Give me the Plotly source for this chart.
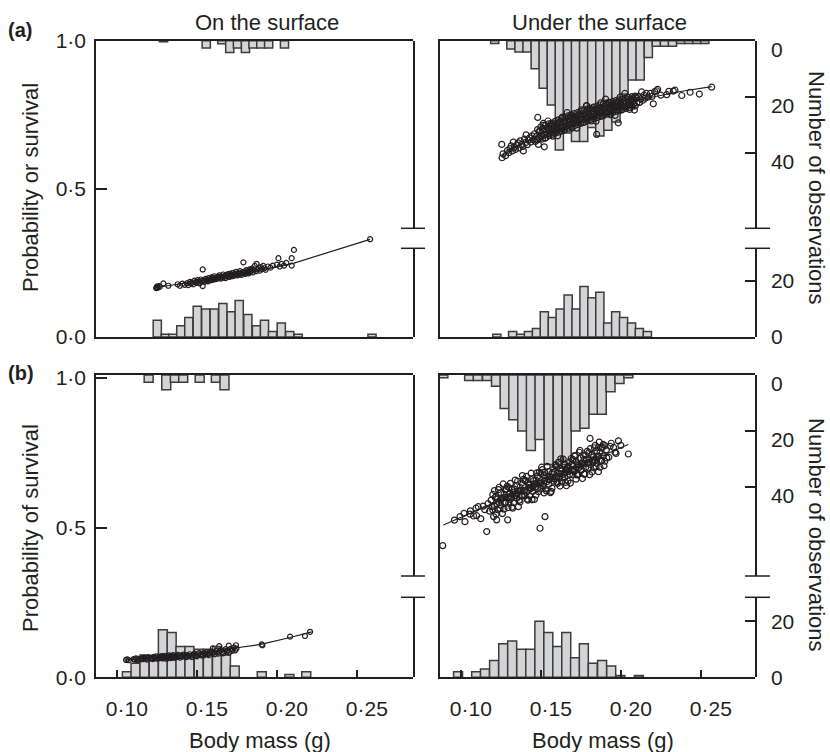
import plotly.graph_objects as go

# %% data ---------------------------------------------------------------------
# Histogram bars: bar centre (body mass, g) and number of observations.
# "dead" bars stand on the 0 line, "alive" bars hang down from the 1 line.

# (a) on the surface
a_on_dead_x = [0.1253, 0.1303, 0.1350, 0.1400, 0.1450, 0.1503, 0.1556, 0.1609, 0.1663, 0.1715,
               0.1765, 0.1819, 0.1873, 0.1923, 0.1973, 0.2028, 0.2081, 0.2134, 0.2595]
a_on_dead_n = [6, 1, 1, 4, 7, 11, 10, 10, 12, 9, 13, 8, 4, 6, 2, 5, 2, 1, 1]
a_on_alive_x = [0.1292, 0.1559, 0.1656, 0.1706, 0.1754, 0.1804, 0.1851, 0.1900, 0.1949, 0.2048]
a_on_alive_n = [0.4, 2.6, 1.1, 4.2, 2.6, 4.2, 2.6, 2.6, 2.6, 2.6]
a_on_fit_x = [0.1249, 0.1400, 0.1550, 0.1687, 0.1800, 0.1900, 0.2000, 0.2103, 0.2583]
a_on_fit_y = [0.167, 0.179, 0.191, 0.2035, 0.215, 0.226, 0.237, 0.2487, 0.3297]
a_on_pts = [
    (0.1246, 0.165), (0.1250, 0.168), (0.1252, 0.170), (0.1255, 0.166), (0.1262, 0.172), (0.1268, 0.169),
    (0.1291, 0.181), (0.1322, 0.173), (0.1395, 0.173), (0.1380, 0.178), (0.1410, 0.180), (0.1425, 0.176),
    (0.1440, 0.182), (0.1447, 0.175), (0.1457, 0.186), (0.1462, 0.180), (0.1470, 0.184), (0.1478, 0.178),
    (0.1485, 0.190), (0.1492, 0.185), (0.1500, 0.183), (0.1505, 0.192), (0.1512, 0.187), (0.1518, 0.181),
    (0.1525, 0.194), (0.1530, 0.189), (0.1537, 0.228), (0.1537, 0.172), (0.1542, 0.191), (0.1548, 0.186),
    (0.1555, 0.196), (0.1560, 0.190), (0.1565, 0.193), (0.1570, 0.188), (0.1575, 0.199), (0.1580, 0.194),
    (0.1585, 0.191), (0.1590, 0.197), (0.1595, 0.202), (0.1600, 0.193), (0.1605, 0.198), (0.1610, 0.205),
    (0.1615, 0.195), (0.1620, 0.200), (0.1625, 0.196), (0.1630, 0.203), (0.1635, 0.199), (0.1640, 0.208),
    (0.1645, 0.201), (0.1650, 0.197), (0.1655, 0.204), (0.1660, 0.200), (0.1665, 0.211), (0.1670, 0.203),
    (0.1675, 0.206), (0.1680, 0.199), (0.1685, 0.209), (0.1690, 0.204), (0.1695, 0.212), (0.1700, 0.207),
    (0.1705, 0.203), (0.1710, 0.214), (0.1715, 0.209), (0.1720, 0.205), (0.1725, 0.216), (0.1730, 0.210),
    (0.1735, 0.207), (0.1740, 0.213), (0.1745, 0.220), (0.1750, 0.211), (0.1755, 0.208), (0.1760, 0.216),
    (0.1765, 0.212), (0.1770, 0.222), (0.1775, 0.214), (0.1780, 0.210), (0.1785, 0.218), (0.1791, 0.252),
    (0.1795, 0.215), (0.1800, 0.221), (0.1805, 0.213), (0.1810, 0.226), (0.1815, 0.217), (0.1820, 0.222),
    (0.1825, 0.215), (0.1830, 0.228), (0.1835, 0.220), (0.1840, 0.224), (0.1845, 0.231), (0.1850, 0.218),
    (0.1855, 0.226), (0.1862, 0.240), (0.1870, 0.222), (0.1874, 0.247), (0.1880, 0.228), (0.1888, 0.233),
    (0.1895, 0.224), (0.1900, 0.236), (0.1908, 0.229), (0.1915, 0.240), (0.1922, 0.232), (0.1930, 0.227),
    (0.1945, 0.238), (0.1960, 0.234), (0.1975, 0.241), (0.2000, 0.244), (0.2010, 0.266), (0.2018, 0.238),
    (0.2030, 0.247), (0.2045, 0.241), (0.2060, 0.250), (0.2093, 0.241), (0.2093, 0.266), (0.2107, 0.294),
    (0.2583, 0.330),
]

# (a) under the surface
a_un_alive_x = [0.1212, 0.1313, 0.1364, 0.1414, 0.1465, 0.1515, 0.1566, 0.1616, 0.1667, 0.1717,
                0.1768, 0.1818, 0.1869, 0.1919, 0.1970, 0.2020, 0.2071, 0.2121, 0.2172, 0.2222,
                0.2273, 0.2323, 0.2374, 0.2424, 0.2475, 0.2525]
a_un_alive_n = [1, 3, 4, 4, 10, 17, 23, 39, 33, 36, 36, 31, 34, 32, 29, 19, 14, 14, 6, 2,
                2, 2, 1, 1, 1, 1]
a_un_dead_x = [0.1225, 0.1324, 0.1374, 0.1423, 0.1473, 0.1522, 0.1572, 0.1621, 0.1671, 0.1720,
               0.1770, 0.1819, 0.1869, 0.1918, 0.1968, 0.2017, 0.2067, 0.2116, 0.2166]
a_un_dead_n = [1, 2, 1, 2, 3, 9, 7, 10, 15, 10, 18, 14, 16, 5, 9, 7, 5, 3, 2]
a_un_fit_x = [0.1256, 0.1308, 0.140, 0.150, 0.160, 0.170, 0.180, 0.190, 0.200, 0.210, 0.220, 0.230, 0.240, 0.2568]
a_un_fit_y = [0.612, 0.630, 0.657, 0.684, 0.708, 0.730, 0.750, 0.768, 0.784, 0.798, 0.810, 0.821, 0.831, 0.845]
a_un_pts = [
    (0.1256, 0.650), (0.1258, 0.605), (0.1264, 0.618), (0.1280, 0.612), (0.1292, 0.630), (0.1300, 0.622),
    (0.1308, 0.636), (0.1315, 0.645), (0.1322, 0.628), (0.1328, 0.658), (0.1335, 0.640), (0.1342, 0.633),
    (0.1350, 0.648), (0.1358, 0.655), (0.1365, 0.638), (0.1372, 0.662), (0.1380, 0.650), (0.1388, 0.643),
    (0.1391, 0.628), (0.1398, 0.668), (0.1405, 0.656), (0.1408, 0.682), (0.1415, 0.649), (0.1422, 0.664),
    (0.1430, 0.672), (0.1438, 0.658), (0.1445, 0.679), (0.1452, 0.666), (0.1460, 0.686), (0.1466, 0.660),
    (0.1472, 0.676), (0.1481, 0.741), (0.1516, 0.721), (0.1522, 0.642),
    (0.148, 0.700), (0.148, 0.665), (0.149, 0.672), (0.149, 0.694), (0.150, 0.709), (0.150, 0.676),
    (0.151, 0.668), (0.151, 0.699), (0.152, 0.702), (0.152, 0.681), (0.153, 0.714), (0.153, 0.672),
    (0.154, 0.686), (0.154, 0.707), (0.155, 0.719), (0.155, 0.679), (0.156, 0.690), (0.156, 0.711),
    (0.157, 0.684), (0.157, 0.722), (0.158, 0.713), (0.158, 0.695), (0.159, 0.728), (0.159, 0.688),
    (0.160, 0.699), (0.160, 0.721), (0.161, 0.691), (0.161, 0.733), (0.162, 0.724), (0.162, 0.703),
    (0.163, 0.738), (0.163, 0.696), (0.164, 0.709), (0.164, 0.729), (0.165, 0.700), (0.165, 0.741),
    (0.166, 0.733), (0.166, 0.712), (0.167, 0.746), (0.167, 0.704), (0.168, 0.717), (0.168, 0.737),
    (0.169, 0.709), (0.169, 0.750), (0.170, 0.741), (0.170, 0.720), (0.171, 0.754), (0.171, 0.713),
    (0.172, 0.725), (0.172, 0.745), (0.173, 0.717), (0.173, 0.757), (0.174, 0.749), (0.174, 0.728),
    (0.175, 0.762), (0.175, 0.721), (0.176, 0.733), (0.176, 0.753), (0.177, 0.725), (0.177, 0.765),
    (0.178, 0.757), (0.178, 0.736), (0.179, 0.769), (0.179, 0.729), (0.180, 0.741), (0.180, 0.761),
    (0.181, 0.733), (0.181, 0.772), (0.182, 0.764), (0.182, 0.744), (0.183, 0.776), (0.183, 0.737),
    (0.184, 0.748), (0.184, 0.768), (0.185, 0.740), (0.185, 0.779), (0.186, 0.771), (0.186, 0.751),
    (0.187, 0.783), (0.187, 0.744), (0.188, 0.755), (0.188, 0.775), (0.189, 0.747), (0.189, 0.786),
    (0.190, 0.778), (0.190, 0.758), (0.191, 0.789), (0.191, 0.752), (0.192, 0.762), (0.192, 0.782),
    (0.193, 0.755), (0.193, 0.792), (0.194, 0.784), (0.194, 0.765), (0.195, 0.795), (0.195, 0.758),
    (0.196, 0.769), (0.196, 0.788), (0.197, 0.761), (0.197, 0.798), (0.198, 0.790), (0.198, 0.772),
    (0.199, 0.800), (0.199, 0.765), (0.200, 0.775), (0.200, 0.794), (0.201, 0.768), (0.201, 0.803),
    (0.202, 0.796), (0.202, 0.778), (0.203, 0.806), (0.203, 0.771), (0.204, 0.781), (0.204, 0.800),
    (0.205, 0.774), (0.205, 0.809), (0.206, 0.801), (0.206, 0.784), (0.207, 0.811), (0.207, 0.778),
    (0.208, 0.787), (0.208, 0.805), (0.209, 0.780), (0.209, 0.813), (0.210, 0.806), (0.210, 0.790),
    (0.1485, 0.650), (0.1495, 0.695), (0.1505, 0.680), (0.1515, 0.714), (0.1525, 0.671), (0.1535, 0.693),
    (0.1545, 0.729), (0.1555, 0.686), (0.1565, 0.719), (0.1575, 0.678), (0.1585, 0.711), (0.1595, 0.705),
    (0.1605, 0.679), (0.1615, 0.723), (0.1625, 0.709), (0.1635, 0.742), (0.1645, 0.699), (0.1655, 0.721),
    (0.1665, 0.757), (0.1675, 0.714), (0.1685, 0.746), (0.1695, 0.705), (0.1705, 0.738), (0.1715, 0.731),
    (0.1725, 0.705), (0.1735, 0.749), (0.1745, 0.734), (0.1755, 0.767), (0.1765, 0.724), (0.1775, 0.746),
    (0.1785, 0.781), (0.1795, 0.738), (0.1805, 0.770), (0.1815, 0.729), (0.1825, 0.762), (0.1835, 0.754),
    (0.1845, 0.728), (0.1855, 0.772), (0.1865, 0.757), (0.1875, 0.790), (0.1885, 0.746), (0.1895, 0.768),
    (0.1905, 0.803), (0.1915, 0.759), (0.1925, 0.791), (0.1935, 0.750), (0.1945, 0.782), (0.1955, 0.775),
    (0.1965, 0.748), (0.1975, 0.792), (0.1985, 0.777), (0.1995, 0.809), (0.2005, 0.766), (0.2015, 0.787),
    (0.2025, 0.822), (0.2035, 0.778), (0.2045, 0.809), (0.2055, 0.768), (0.2065, 0.800), (0.2075, 0.793),
    (0.2085, 0.766), (0.2095, 0.809),
    (0.1550, 0.699), (0.1575, 0.701), (0.1600, 0.710), (0.1625, 0.711), (0.1650, 0.722), (0.1675, 0.724),
    (0.1700, 0.732), (0.1725, 0.733), (0.1750, 0.742), (0.1775, 0.743), (0.1800, 0.752), (0.1825, 0.752),
    (0.1850, 0.761), (0.1875, 0.761), (0.1900, 0.770), (0.1925, 0.770), (0.1950, 0.778), (0.1975, 0.778),
    (0.2000, 0.786), (0.2025, 0.785), (0.2050, 0.793),
    (0.1628, 0.695), (0.1787, 0.780), (0.1849, 0.684), (0.1984, 0.723),
    (0.2110, 0.812), (0.2118, 0.792), (0.2125, 0.804), (0.2130, 0.827), (0.2138, 0.799), (0.2145, 0.816),
    (0.2152, 0.806), (0.2160, 0.822), (0.2172, 0.810), (0.2185, 0.822), (0.2195, 0.812), (0.2203, 0.787),
    (0.2212, 0.828), (0.2224, 0.831), (0.2230, 0.836), (0.2250, 0.816), (0.2287, 0.818), (0.2300, 0.829),
    (0.2328, 0.830), (0.2339, 0.833), (0.2381, 0.815), (0.2433, 0.826), (0.2491, 0.820), (0.2568, 0.843),
]

# (b) on the surface
b_on_dead_x = [0.1063, 0.1117, 0.1173, 0.1231, 0.1288, 0.1343, 0.1398, 0.1454, 0.1512, 0.1569,
               0.1626, 0.1682, 0.1737, 0.1906, 0.2079, 0.2184]
b_on_dead_n = [2, 5, 8, 6, 17, 16, 11, 11, 10, 10, 11, 8, 4, 2, 1, 2]
b_on_alive_x = [0.1199, 0.1309, 0.1363, 0.1415, 0.1518, 0.1619, 0.1673]
b_on_alive_n = [2.6, 5.3, 2.6, 2.6, 2.6, 2.6, 5.3]
b_on_fit_x = [0.1062, 0.1300, 0.1500, 0.1728, 0.1900, 0.2083, 0.2218]
b_on_fit_y = [0.058, 0.068, 0.078, 0.097, 0.110, 0.133, 0.152]
b_on_pts = [
    (0.1058, 0.058), (0.1066, 0.060), (0.1075, 0.057), (0.1105, 0.061), (0.1112, 0.059), (0.1120, 0.063),
    (0.1128, 0.058), (0.1135, 0.062), (0.1150, 0.060), (0.1158, 0.064), (0.1165, 0.061), (0.1172, 0.066),
    (0.1180, 0.062), (0.1188, 0.059), (0.1195, 0.065), (0.1200, 0.067), (0.1210, 0.063), (0.1218, 0.066),
    (0.1225, 0.061), (0.1232, 0.068), (0.1240, 0.064), (0.1248, 0.070), (0.1255, 0.062), (0.1262, 0.067),
    (0.1268, 0.064), (0.1272, 0.069), (0.1278, 0.066), (0.1282, 0.071), (0.1288, 0.063), (0.1292, 0.068),
    (0.1298, 0.065), (0.1302, 0.072), (0.1308, 0.067), (0.1312, 0.062), (0.1318, 0.070), (0.1322, 0.066),
    (0.1328, 0.073), (0.1332, 0.068), (0.1338, 0.064), (0.1342, 0.071), (0.1348, 0.067), (0.1352, 0.074),
    (0.1358, 0.069), (0.1362, 0.065), (0.1368, 0.072), (0.1375, 0.068), (0.1382, 0.075), (0.1388, 0.070),
    (0.1395, 0.066), (0.1402, 0.073), (0.1410, 0.069), (0.1418, 0.076), (0.1425, 0.071), (0.1432, 0.067),
    (0.1440, 0.074), (0.1448, 0.070), (0.1455, 0.077), (0.1462, 0.072), (0.1470, 0.068), (0.1478, 0.075),
    (0.1485, 0.079), (0.1492, 0.073), (0.1500, 0.070), (0.1508, 0.077), (0.1515, 0.081), (0.1522, 0.074),
    (0.1530, 0.078), (0.1538, 0.072), (0.1545, 0.080), (0.1552, 0.076), (0.1560, 0.083), (0.1568, 0.078),
    (0.1575, 0.074), (0.1582, 0.081), (0.1590, 0.086), (0.1598, 0.079), (0.1600, 0.097), (0.1605, 0.084),
    (0.1612, 0.077), (0.1620, 0.088), (0.1628, 0.082), (0.1635, 0.079), (0.1640, 0.104), (0.1642, 0.086),
    (0.1650, 0.091), (0.1658, 0.084), (0.1665, 0.080), (0.1672, 0.089), (0.1680, 0.094), (0.1688, 0.086),
    (0.1695, 0.090), (0.1700, 0.106), (0.1702, 0.083), (0.1710, 0.095), (0.1718, 0.088), (0.1725, 0.092),
    (0.1732, 0.099), (0.1740, 0.090), (0.1745, 0.107), (0.1748, 0.096), (0.1906, 0.110), (0.1910, 0.107),
    (0.2083, 0.136), (0.2176, 0.138), (0.2208, 0.152),
]

# (b) under the surface
b_un_alive_x = [0.0891, 0.1052, 0.1106, 0.1164, 0.1220, 0.1274, 0.1328, 0.1384, 0.1438, 0.1492,
                0.1549, 0.1606, 0.1662, 0.1717, 0.1773, 0.1830, 0.1881, 0.1936, 0.1992, 0.2047]
b_un_alive_n = [1, 2, 2, 2, 4, 12, 16, 20, 27, 23, 32, 33, 32, 20, 19, 14, 14, 6, 3, 1]
b_un_dead_x = [0.0983, 0.1096, 0.1151, 0.1208, 0.1265, 0.1321, 0.1378, 0.1434, 0.1491, 0.1547,
               0.1603, 0.1659, 0.1714, 0.1769, 0.1825, 0.1883, 0.1940, 0.1997, 0.2113]
b_un_dead_n = [2, 2, 3, 6, 12, 13, 10, 10, 20, 16, 11, 16, 7, 12, 5, 6, 4, 0.6, 0.6]
b_un_fit_x = [0.0891, 0.1470, 0.2047]
b_un_fit_y = [0.509, 0.644, 0.778]
b_un_pts = [
    (0.0887, 0.440), (0.0960, 0.525), (0.0995, 0.537), (0.1020, 0.548), (0.1026, 0.520), (0.1058, 0.545),
    (0.1060, 0.556), (0.1080, 0.539), (0.1095, 0.565), (0.1099, 0.540), (0.1109, 0.570), (0.1125, 0.530),
    (0.1140, 0.572), (0.1150, 0.560), (0.1162, 0.487), (0.1170, 0.580), (0.1180, 0.555), (0.1190, 0.592),
    (0.1195, 0.570), (0.1224, 0.526), (0.1293, 0.526), (0.1495, 0.498), (0.1526, 0.537),
    (0.120, 0.611), (0.120, 0.559), (0.121, 0.571), (0.121, 0.624), (0.122, 0.604), (0.122, 0.546),
    (0.123, 0.560), (0.123, 0.596), (0.124, 0.635), (0.124, 0.584), (0.125, 0.575), (0.125, 0.617),
    (0.126, 0.599), (0.126, 0.547), (0.127, 0.562), (0.127, 0.611), (0.128, 0.626), (0.128, 0.585),
    (0.129, 0.600), (0.129, 0.638), (0.130, 0.634), (0.130, 0.582), (0.131, 0.595), (0.131, 0.648),
    (0.132, 0.627), (0.132, 0.569), (0.133, 0.583), (0.133, 0.619), (0.134, 0.659), (0.134, 0.608),
    (0.135, 0.598), (0.135, 0.640), (0.136, 0.622), (0.136, 0.570), (0.137, 0.586), (0.137, 0.635),
    (0.138, 0.649), (0.138, 0.608), (0.139, 0.623), (0.139, 0.661), (0.140, 0.658), (0.140, 0.606),
    (0.141, 0.618), (0.141, 0.671), (0.142, 0.650), (0.142, 0.592), (0.143, 0.607), (0.143, 0.643),
    (0.144, 0.682), (0.144, 0.631), (0.145, 0.621), (0.145, 0.663), (0.146, 0.646), (0.146, 0.594),
    (0.147, 0.609), (0.147, 0.658), (0.148, 0.672), (0.148, 0.631), (0.149, 0.647), (0.149, 0.685),
    (0.150, 0.681), (0.150, 0.629), (0.151, 0.641), (0.151, 0.694), (0.152, 0.674), (0.152, 0.616),
    (0.153, 0.630), (0.153, 0.666), (0.154, 0.705), (0.154, 0.654), (0.155, 0.645), (0.155, 0.687),
    (0.156, 0.669), (0.156, 0.617), (0.157, 0.632), (0.157, 0.681), (0.158, 0.696), (0.158, 0.655),
    (0.159, 0.670), (0.159, 0.708), (0.160, 0.704), (0.160, 0.652), (0.161, 0.665), (0.161, 0.718),
    (0.162, 0.697), (0.162, 0.639), (0.163, 0.653), (0.163, 0.689), (0.164, 0.729), (0.164, 0.678),
    (0.165, 0.668), (0.165, 0.710), (0.166, 0.692), (0.166, 0.640), (0.167, 0.656), (0.167, 0.705),
    (0.168, 0.719), (0.168, 0.678), (0.169, 0.693), (0.169, 0.731), (0.170, 0.728), (0.170, 0.676),
    (0.171, 0.688), (0.171, 0.741), (0.172, 0.720), (0.172, 0.662), (0.173, 0.677), (0.173, 0.713),
    (0.174, 0.752), (0.174, 0.701), (0.175, 0.691), (0.175, 0.733), (0.176, 0.716), (0.176, 0.664),
    (0.177, 0.679), (0.177, 0.728), (0.178, 0.742), (0.178, 0.701), (0.179, 0.717), (0.179, 0.755),
    (0.180, 0.751), (0.180, 0.699), (0.181, 0.711), (0.181, 0.764), (0.182, 0.744), (0.182, 0.686),
    (0.183, 0.700), (0.183, 0.736), (0.184, 0.775), (0.184, 0.724), (0.185, 0.715), (0.185, 0.757),
    (0.186, 0.739), (0.186, 0.687), (0.187, 0.702), (0.187, 0.751), (0.188, 0.766), (0.188, 0.725),
    (0.189, 0.740), (0.189, 0.778), (0.190, 0.774), (0.190, 0.722),
    (0.1205, 0.537), (0.1215, 0.601), (0.1225, 0.579), (0.1235, 0.627), (0.1245, 0.564), (0.1255, 0.597),
    (0.1265, 0.646), (0.1275, 0.582), (0.1285, 0.629), (0.1295, 0.567), (0.1305, 0.615), (0.1315, 0.604),
    (0.1325, 0.565), (0.1335, 0.629), (0.1345, 0.607), (0.1355, 0.655), (0.1365, 0.592), (0.1375, 0.625),
    (0.1385, 0.674), (0.1395, 0.610), (0.1405, 0.657), (0.1415, 0.595), (0.1425, 0.643), (0.1435, 0.632),
    (0.1445, 0.593), (0.1455, 0.657), (0.1465, 0.635), (0.1475, 0.683), (0.1485, 0.620), (0.1495, 0.653),
    (0.1505, 0.702), (0.1515, 0.638), (0.1525, 0.685), (0.1535, 0.623), (0.1545, 0.671), (0.1555, 0.660),
    (0.1565, 0.621), (0.1575, 0.685), (0.1585, 0.663), (0.1595, 0.711), (0.1605, 0.648), (0.1615, 0.681),
    (0.1625, 0.730), (0.1635, 0.666), (0.1645, 0.713), (0.1655, 0.651), (0.1665, 0.699), (0.1675, 0.688),
    (0.1685, 0.649), (0.1695, 0.713), (0.1705, 0.691), (0.1715, 0.739), (0.1725, 0.676), (0.1735, 0.709),
    (0.1745, 0.758), (0.1755, 0.694), (0.1765, 0.741), (0.1775, 0.679), (0.1785, 0.727), (0.1795, 0.716),
    (0.1805, 0.677), (0.1815, 0.741), (0.1825, 0.719), (0.1835, 0.767), (0.1845, 0.704), (0.1855, 0.737),
    (0.1865, 0.786), (0.1875, 0.722), (0.1885, 0.769), (0.1895, 0.707),
    (0.1250, 0.592), (0.1275, 0.601), (0.1300, 0.603), (0.1325, 0.612), (0.1350, 0.614), (0.1375, 0.623),
    (0.1400, 0.625), (0.1425, 0.634), (0.1450, 0.637), (0.1475, 0.646), (0.1500, 0.648), (0.1525, 0.657),
    (0.1550, 0.660), (0.1575, 0.669), (0.1600, 0.671), (0.1625, 0.680), (0.1650, 0.683), (0.1675, 0.692),
    (0.1700, 0.694), (0.1725, 0.703), (0.1750, 0.706), (0.1775, 0.715), (0.1800, 0.717), (0.1825, 0.726),
    (0.1850, 0.729),
    (0.1808, 0.798), (0.1859, 0.768), (0.1910, 0.760), (0.1912, 0.733), (0.1925, 0.735), (0.1933, 0.772),
    (0.1940, 0.782), (0.1955, 0.768), (0.1964, 0.752), (0.1970, 0.748), (0.1985, 0.790), (0.2000, 0.775),
    (0.2047, 0.746),
]

mass_ticks = [0.10, 0.15, 0.20, 0.25]
mass_tick_text = ["0·10", "0·15", "0·20", "0·25"]
prob_ticks = [0, 0.5, 1]
prob_tick_text = ["0·0", "0·5", "1·0"]
count_ticks_hi = [0, 20, 40]
count_ticks_lo = [0, 20]

# %% geometry / style ---------------------------------------------------------
W, H = 830, 752
FONT = "Liberation Sans, Arial, Helvetica, sans-serif"
INK = "#231f20"
BAR_FILL = "#d3d4d6"
BAR_EDGE = "#3d3b3c"
LW = 1.5
TICK_FS = 21
TITLE_FS = 22

COL_PX = [(96, 413), (440, 755)]  # left, right edge of the panel
ROW_PX = [(40.7, 228.3, 248.3, 337.0), (375.0, 576.0, 597.3, 677.3)]  # top, break, break, bottom
P_SCALE = [296.3, 299.3]  # px per unit of probability
BAR_W = [0.0051, 0.0056]
MARKER = [5, 6]  # circle size, left / right column
PX_PER_COUNT = 2.8
PX_PER_GRAM = 1600
X_MIN = 0.087

panels = [
    dict(col=0, row=0, alive=(a_on_alive_x, a_on_alive_n), dead=(a_on_dead_x, a_on_dead_n),
         fit=(a_on_fit_x, a_on_fit_y), pts=a_on_pts),
    dict(col=1, row=0, alive=(a_un_alive_x, a_un_alive_n), dead=(a_un_dead_x, a_un_dead_n),
         fit=(a_un_fit_x, a_un_fit_y), pts=a_un_pts),
    dict(col=0, row=1, alive=(b_on_alive_x, b_on_alive_n), dead=(b_on_dead_x, b_on_dead_n),
         fit=(b_on_fit_x, b_on_fit_y), pts=b_on_pts),
    dict(col=1, row=1, alive=(b_un_alive_x, b_un_alive_n), dead=(b_un_dead_x, b_un_dead_n),
         fit=(b_un_fit_x, b_un_fit_y), pts=b_un_pts),
]


def ax_id(letter, n):
    return letter if n == 1 else f"{letter}{n}"


def ax_key(letter, n):
    return f"{letter}axis" if n == 1 else f"{letter}axis{n}"


fig = go.Figure()
layout = {}
shapes = []
tickfont = dict(family=FONT, size=TICK_FS, color=INK)
bar_marker = dict(color=BAR_FILL, line=dict(color=BAR_EDGE, width=LW))

for i, p in enumerate(panels):
    xl, xr = COL_PX[p["col"]]
    top, brk_hi, brk_lo, bottom = ROW_PX[p["row"]]
    left_col = p["col"] == 0
    bottom_row = p["row"] == 1
    xn = i + 1
    yt, yb, yp = 3 * i + 1, 3 * i + 2, 3 * i + 3
    xa = ax_id("x", xn)

    fig.add_trace(go.Bar(x=p["alive"][0], y=p["alive"][1], width=BAR_W[p["row"]],
                         marker=bar_marker, xaxis=xa, yaxis=ax_id("y", yt)))
    fig.add_trace(go.Bar(x=p["dead"][0], y=p["dead"][1], width=BAR_W[p["row"]],
                         marker=bar_marker, xaxis=xa, yaxis=ax_id("y", yb)))
    fig.add_trace(go.Scatter(x=[q[0] for q in p["pts"]], y=[q[1] for q in p["pts"]],
                             mode="markers", xaxis=xa, yaxis=ax_id("y", yp),
                             marker=dict(symbol="circle-open", size=MARKER[p["col"]], color=INK,
                                         line=dict(width=1.2, color=INK))))
    fig.add_trace(go.Scatter(x=p["fit"][0], y=p["fit"][1], mode="lines",
                             xaxis=xa, yaxis=ax_id("y", yp),
                             line=dict(color=INK, width=1.2)))

    common = dict(showgrid=False, zeroline=False, showline=True, linecolor=INK,
                  linewidth=LW, tickcolor=INK, tickwidth=LW, tickfont=tickfont,
                  automargin=False)
    layout[ax_key("x", xn)] = dict(
        common, domain=[xl / W, xr / W], range=[X_MIN, X_MIN + (xr - xl) / PX_PER_GRAM],
        anchor=ax_id("y", yp), mirror=True,
        ticks="inside" if bottom_row else "", ticklen=8,
        tickvals=mass_ticks, ticktext=mass_tick_text, showticklabels=bottom_row,
        ticklabelshift=10, ticklabelstandoff=12,
    )
    layout[ax_key("y", yp)] = dict(
        common, domain=[1 - bottom / H, 1 - top / H],
        range=[0, (bottom - top) / P_SCALE[p["row"]]], anchor=xa, side="left",
        ticks="inside" if left_col else "", ticklen=11,
        tickvals=prob_ticks, ticktext=prob_tick_text, showticklabels=left_col,
        ticklabelstandoff=4,
    )
    layout[ax_key("y", yt)] = dict(
        common, domain=[1 - brk_hi / H, 1 - top / H],
        range=[(brk_hi - top) / PX_PER_COUNT, 0], anchor=xa, side="right",
        ticks="" if left_col else "inside", ticklen=10,
        tickvals=count_ticks_hi, showticklabels=not left_col,
        ticklabelshift=-9, ticklabelstandoff=10,
    )
    layout[ax_key("y", yb)] = dict(
        common, domain=[1 - bottom / H, 1 - brk_lo / H],
        range=[0, (bottom - brk_lo) / PX_PER_COUNT], anchor=xa, side="right",
        ticks="" if left_col else "inside", ticklen=10,
        tickvals=count_ticks_lo, showticklabels=not left_col,
        ticklabelstandoff=10,
    )

    # little bars that mark the axis break on the right-hand edge
    w = xr - xl
    stub_in, stub_out = (12, 12) if left_col else (10, 15)
    for yref, yv in ((f"{ax_id('y', yt)} domain", 0), (f"{ax_id('y', yb)} domain", 1)):
        shapes.append(dict(type="line", xref=f"{xa} domain", yref=yref,
                           x0=1 - stub_in / w, x1=1 + stub_out / w, y0=yv, y1=yv,
                           line=dict(color=INK, width=LW)))


def note(text, x, y, size=TITLE_FS, angle=0, bold=False, xanchor="center"):
    return dict(text=f"<b>{text}</b>" if bold else text, x=x / W, y=1 - y / H,
                xref="paper", yref="paper", showarrow=False, textangle=angle,
                xanchor=xanchor, yanchor="middle",
                font=dict(family=FONT, size=size, color=INK))


annotations = [
    note("(a)", 6, 30, size=20, bold=True, xanchor="left"),
    note("(b)", 6, 373, size=20, bold=True, xanchor="left"),
    note("On the surface", 267, 22),
    note("Under the surface", 599, 22),
    note("Probability or survival", 30, 188, angle=-90),
    note("Probability of survival", 30, 528, angle=-90),
    note("Number of observations", 817, 188, angle=90),
    note("Number of observations", 817, 535, angle=90),
    note("Body mass (g)", 260, 740),
    note("Body mass (g)", 603, 740),
]

fig.update_layout(
    width=W, height=H,
    margin=dict(l=0, r=0, t=0, b=0, pad=0, autoexpand=False),
    paper_bgcolor="white", plot_bgcolor="rgba(0,0,0,0)",
    showlegend=False, barmode="overlay", hovermode=False,
    font=dict(family=FONT, color=INK),
    shapes=shapes, annotations=annotations,
    **layout,
)

# the page's default 8px body margin would push the figure off the window
fig.write_html("out.html", config={"displayModeBar": False},
               post_script="document.body.style.margin = '0';")
